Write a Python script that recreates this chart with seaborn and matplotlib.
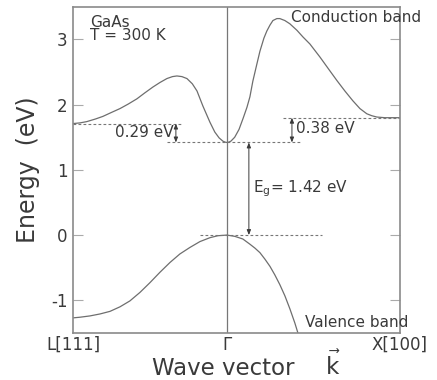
import numpy as np
import pandas as pd
import seaborn as sns
import matplotlib
matplotlib.use("Agg")
import matplotlib.pyplot as plt

# band values (k: L = -0.89, Gamma = 0, X = 1; E in eV)
cb_k = [-0.89, -0.85, -0.81, -0.76, -0.717, -0.668, -0.618, -0.57, -0.52, -0.475, -0.428,
        -0.387, -0.347, -0.315, -0.289, -0.26, -0.231, -0.2, -0.173, -0.139, -0.098,
        -0.07, -0.045, -0.023, -0.01, 0.0, 0.01, 0.023, 0.045, 0.07, 0.095, 0.116, 0.133,
        0.150, 0.173, 0.191, 0.214, 0.231, 0.249, 0.266, 0.289, 0.306, 0.335, 0.364,
        0.405, 0.439, 0.480, 0.538, 0.595, 0.636, 0.682, 0.728, 0.769, 0.809, 0.838,
        0.867, 0.913, 1.0]
cb_e = [1.71, 1.72, 1.74, 1.78, 1.82, 1.88, 1.94, 2.01, 2.09, 2.18, 2.27,
        2.34, 2.40, 2.43, 2.44, 2.43, 2.40, 2.32, 2.21, 1.98, 1.73,
        1.58, 1.49, 1.44, 1.425, 1.42, 1.425, 1.44, 1.50, 1.62, 1.80, 1.96, 2.12,
        2.36, 2.62, 2.82, 3.02, 3.13, 3.22, 3.29, 3.32, 3.32, 3.29, 3.24,
        3.14, 3.04, 2.93, 2.73, 2.52, 2.37, 2.21, 2.06, 1.94, 1.86, 1.83,
        1.81, 1.80, 1.80]
vb_k = [-0.89, -0.85, -0.792, -0.734, -0.676, -0.618, -0.561, -0.503, -0.445, -0.387,
        -0.329, -0.272, -0.214, -0.156, -0.098, -0.052, 0.0, 0.046, 0.092, 0.133,
        0.162, 0.191, 0.220, 0.249, 0.277, 0.306, 0.335, 0.364, 0.393, 0.422]
vb_e = [-1.27, -1.26, -1.24, -1.21, -1.17, -1.10, -1.01, -0.88, -0.73, -0.57,
        -0.42, -0.29, -0.19, -0.10, -0.04, -0.01, 0.0, -0.02, -0.06, -0.14,
        -0.20, -0.27, -0.37, -0.48, -0.61, -0.76, -0.93, -1.13, -1.35, -1.60]

gap = 1.42
l_gap = 1.71
x_gap = 1.80
tick_pos = [-0.89, 0.0, 1.0]
tick_lab = ["L[111]", "Γ", "X[100]"]

sns.set_style("ticks")
plt.rcParams["font.family"] = ["DejaVu Sans"]
plt.rcParams["axes.unicode_minus"] = False
txt = "#3a3a3a"
gry = "#8a8a8a"

fig = plt.figure(figsize=(4.37, 3.80), dpi=100)
ax = fig.add_axes([0.167, 0.124, 0.748, 0.858])

bands = pd.concat([
    pd.DataFrame({"k": cb_k, "E": cb_e, "band": "cb"}),
    pd.DataFrame({"k": vb_k, "E": vb_e, "band": "vb"}),
])
sns.lineplot(data=bands, x="k", y="E", units="band", estimator=None, sort=False,
             color="#6e6e6e", lw=0.9, ax=ax)

ax.axvline(0, color="#777777", lw=0.9)

# dashed reference levels
dash = dict(color="#777777", lw=0.8, ls=(0, (2.5, 2)))
ax.plot([-0.89, -0.254], [l_gap, l_gap], **dash)
ax.plot([-0.347, 0.434], [gap, gap], **dash)
ax.plot([0.324, 1.0], [x_gap, x_gap], **dash)
ax.plot([-0.156, 0.549], [0, 0], **dash)

arr = dict(arrowstyle="<|-|>,head_length=0.3,head_width=0.12", color=txt, lw=0.7,
           shrinkA=0, shrinkB=0)
ax.annotate("", xy=(-0.295, l_gap), xytext=(-0.295, gap), arrowprops=arr)
ax.annotate("", xy=(0.376, x_gap), xytext=(0.376, gap), arrowprops=arr)
ax.annotate("", xy=(0.127, gap), xytext=(0.127, 0), arrowprops=arr)

fs = 11
ax.text(-0.31, 1.58, "0.29 eV", ha="right", va="center", fontsize=fs, color=txt)
ax.text(0.40, 1.63, "0.38 eV", ha="left", va="center", fontsize=fs, color=txt)
ax.text(0.15, 0.71, "E$_\\mathregular{g}$= 1.42 eV", ha="left", va="center", fontsize=fs, color=txt)
ax.text(-0.79, 3.38, "GaAs\nT = 300 K", ha="left", va="top", fontsize=fs, color=txt,
        linespacing=0.85)
ax.text(0.37, 3.33, "Conduction band", ha="left", va="center", fontsize=fs, color=txt,
        clip_on=False)
ax.text(0.45, -1.34, "Valence band", ha="left", va="center", fontsize=fs, color=txt,
        clip_on=False)

ax.set_xlim(-0.89, 1.0)
ax.set_ylim(-1.5, 3.5)
ax.set_xticks(tick_pos)
ax.set_xticklabels(tick_lab)
ax.set_yticks([-1, 0, 1, 2, 3])
ax.tick_params(axis="x", length=0, pad=2, labelsize=12, labelcolor=txt)
ax.tick_params(axis="y", direction="in", length=7, color="#aaaaaa", left=True, right=True,
               labelsize=12, labelcolor=txt, pad=4)
for s in ax.spines.values():
    s.set_color(gry)
    s.set_linewidth(1.2)

ax.set_xlabel("")
ax.set_ylabel("Energy  (eV)", fontsize=17, color=txt, labelpad=8)
fig.text(0.348, 0.013, "Wave vector", ha="left", va="baseline", fontsize=16.5, color=txt)
fig.text(0.762, 0.013, "$\\vec{\\mathregular{k}}$", ha="center", va="baseline",
         fontsize=16.5, color=txt)

fig.savefig("out.png", dpi=100)
